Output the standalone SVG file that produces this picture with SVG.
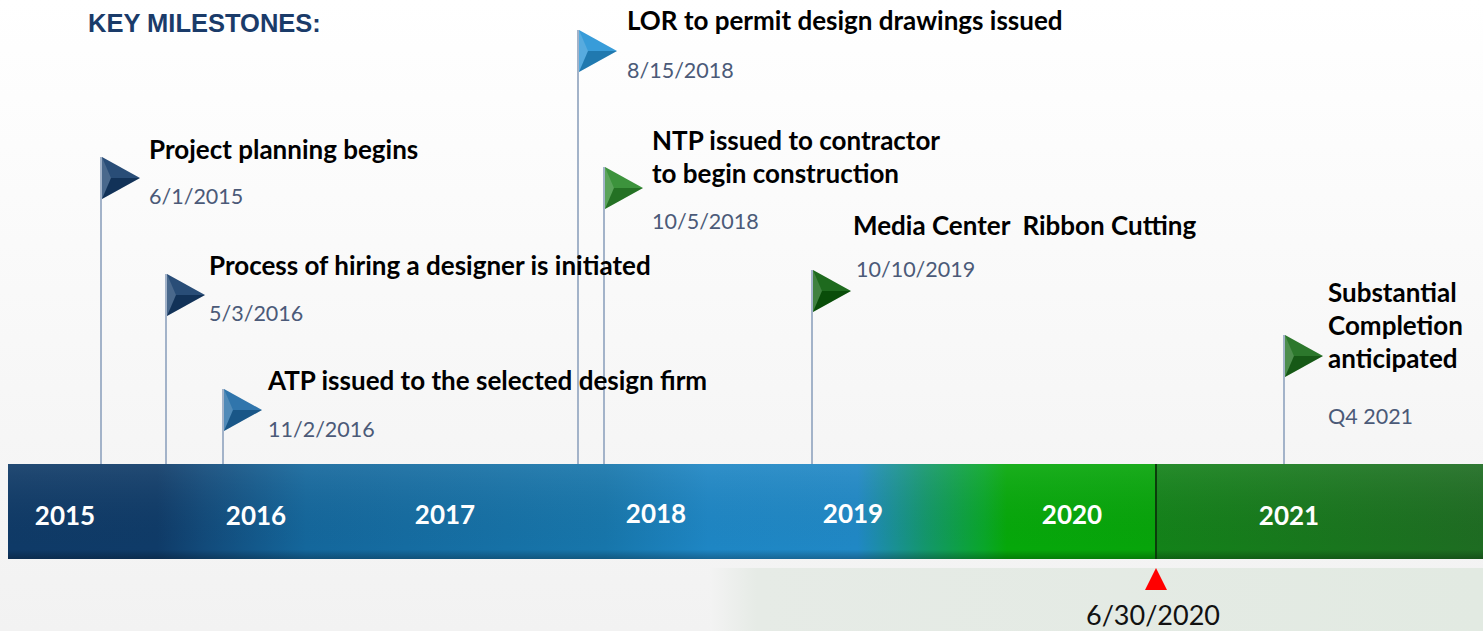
<svg xmlns="http://www.w3.org/2000/svg" xmlns:xlink="http://www.w3.org/1999/xlink" width="1483" height="631" viewBox="0 0 1483 631">
<defs>
<linearGradient id="bg" x1="0" y1="0" x2="0" y2="1">
<stop offset="0" stop-color="#ffffff"/>
<stop offset="1" stop-color="#f2f2f2"/>
</linearGradient>
<linearGradient id="panel" x1="0" y1="0" x2="1" y2="0">
<stop offset="0" stop-color="#f3f3f3"/>
<stop offset="0.06" stop-color="#e6ebe6"/>
<stop offset="1" stop-color="#e2eae2"/>
</linearGradient>
<linearGradient id="barA" gradientUnits="userSpaceOnUse" x1="8" y1="0" x2="1156" y2="0">
<stop offset="0" stop-color="#0f3a67"/>
<stop offset="0.13" stop-color="#0f3b68"/>
<stop offset="0.17" stop-color="#124a7a"/>
<stop offset="0.26" stop-color="#14679c"/>
<stop offset="0.52" stop-color="#1776ab"/>
<stop offset="0.61" stop-color="#1e86c4"/>
<stop offset="0.74" stop-color="#2088c5"/>
<stop offset="0.80" stop-color="#13976a"/>
<stop offset="0.85" stop-color="#09a62a"/>
<stop offset="0.87" stop-color="#06a80a"/>
<stop offset="1" stop-color="#07a40a"/>
</linearGradient>
<linearGradient id="barB" gradientUnits="userSpaceOnUse" x1="1156" y1="0" x2="1483" y2="0">
<stop offset="0" stop-color="#138219"/>
<stop offset="1" stop-color="#1e6c22"/>
</linearGradient>
<linearGradient id="barShade" x1="0" y1="0" x2="0" y2="1">
<stop offset="0" stop-color="#ffffff" stop-opacity="0.08"/>
<stop offset="0.9" stop-color="#000000" stop-opacity="0"/>
<stop offset="1" stop-color="#000000" stop-opacity="0.25"/>
</linearGradient>
<g id="flag">
<polygon points="0,0 38,21 0,42" fill="currentColor"/>
<polygon points="0,0 9,21 0,42" fill="#ffffff" opacity="0.22"/>
<polygon points="0,0 38,21 9,21" fill="#ffffff" opacity="0.08"/>
<polygon points="0,42 9,21 38,21" fill="#000000" opacity="0.18"/>
</g>
<style>
.pole{stroke:#a3b3c9;stroke-width:2;fill:none}
.ttl{font-family:Lato,"Liberation Sans",sans-serif;font-weight:bold;font-size:26px;fill:#000000}
.dt{font-family:Lato,"Liberation Sans",sans-serif;font-size:21.5px;fill:#4b5a78}
.yr{font-family:Lato,"Liberation Sans",sans-serif;font-weight:bold;font-size:26px;fill:#ffffff;text-anchor:middle}
.hdr{font-family:"Liberation Sans",sans-serif;font-weight:bold;font-size:25.5px;fill:#1a3b69}
.mk{font-family:Lato,"Liberation Sans",sans-serif;font-size:27px;fill:#111111;text-anchor:middle}
</style>
</defs>
<rect x="0" y="0" width="1483" height="631" fill="url(#bg)"/>
<rect x="710" y="568" width="773" height="63" fill="url(#panel)"/>
<text class="hdr" x="88" y="32">KEY MILESTONES:</text>

<g id="timeline">
<rect x="8" y="464" width="1148" height="95" fill="url(#barA)"/>
<rect x="1156" y="464" width="327" height="95" fill="url(#barB)"/>
<rect x="8" y="464" width="1475" height="95" fill="url(#barShade)"/>
<line x1="1156" y1="464" x2="1156" y2="559" stroke="#0b3d0b" stroke-width="2"/>
<text class="yr" x="65" y="525">2015</text>
<text class="yr" x="256" y="525">2016</text>
<text class="yr" x="445" y="524">2017</text>
<text class="yr" x="656" y="523">2018</text>
<text class="yr" x="853" y="523">2019</text>
<text class="yr" x="1072" y="524">2020</text>
<text class="yr" x="1289" y="525">2021</text>
</g>

<g id="connectors">
<line class="pole" x1="101" y1="157" x2="101" y2="464"/>
<line class="pole" x1="166" y1="274" x2="166" y2="464"/>
<line class="pole" x1="223" y1="389" x2="223" y2="464"/>
<line class="pole" x1="578" y1="30" x2="578" y2="464"/>
<line class="pole" x1="604" y1="167" x2="604" y2="464"/>
<line class="pole" x1="812" y1="270" x2="812" y2="464"/>
<line class="pole" x1="1284" y1="335" x2="1284" y2="464"/>
</g>

<g id="m1">
<use xlink:href="#flag" href="#flag" x="102" y="157" style="color:#173e6c"/>
<text class="ttl" x="149" y="159">Project planning begins</text>
<text class="dt" x="149" y="204">6/1/2015</text>
</g>
<g id="m2">
<use xlink:href="#flag" href="#flag" x="167" y="274" style="color:#173e6c"/>
<text class="ttl" x="209" y="275">Process of hiring a designer is initiated</text>
<text class="dt" x="209" y="321">5/3/2016</text>
</g>
<g id="m3">
<use xlink:href="#flag" href="#flag" x="224" y="389" style="color:#1f6aa5"/>
<text class="ttl" x="268" y="390">ATP issued to the selected design firm</text>
<text class="dt" x="268" y="437">11/2/2016</text>
</g>
<g id="m4">
<use xlink:href="#flag" href="#flag" x="579" y="30" style="color:#2894d6"/>
<text class="ttl" x="627" y="30">LOR to permit design drawings issued</text>
<text class="dt" x="627" y="78">8/15/2018</text>
</g>
<g id="m5">
<use xlink:href="#flag" href="#flag" x="605" y="167" style="color:#2c8a2c"/>
<text class="ttl" x="652" y="150">NTP issued to contractor</text>
<text class="ttl" x="652" y="183">to begin construction</text>
<text class="dt" x="652" y="229">10/5/2018</text>
</g>
<g id="m6">
<use xlink:href="#flag" href="#flag" x="813" y="270" style="color:#0b5e0b"/>
<text class="ttl" x="853" y="235" xml:space="preserve">Media Center  Ribbon Cutting</text>
<text class="dt" x="856" y="277">10/10/2019</text>
</g>
<g id="m7">
<use xlink:href="#flag" href="#flag" x="1285" y="335" style="color:#1b6d1b"/>
<text class="ttl" x="1328" y="302">Substantial</text>
<text class="ttl" x="1328" y="335">Completion</text>
<text class="ttl" x="1328" y="368">anticipated</text>
<text class="dt" x="1328" y="424">Q4 2021</text>
</g>
<g id="marker">
<polygon points="1145,590 1156,568 1167,590" fill="#ff0000"/>
<text class="mk" x="1153" y="625">6/30/2020</text>
</g>
</svg>
